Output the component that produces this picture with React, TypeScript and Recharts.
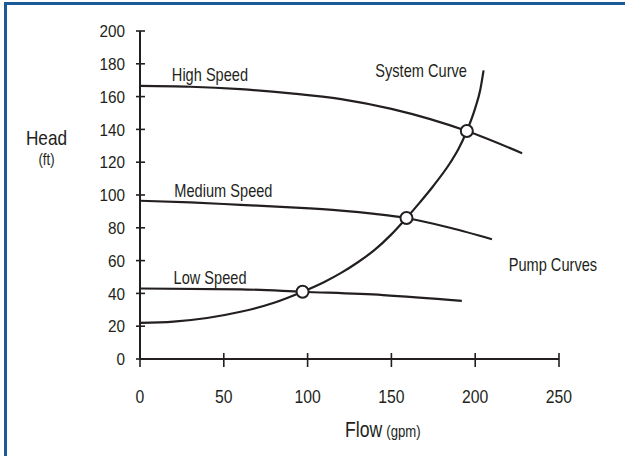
import React from "react"
import {
  ComposedChart,
  Line,
  Scatter,
  XAxis,
  YAxis,
  ReferenceDot,
} from "recharts"

// values (flow in gpm, head in ft)
const flowTicks = [0, 50, 100, 150, 200, 250]
const headTicks = [0, 20, 40, 60, 80, 100, 120, 140, 160, 180, 200]

const highSpeed = [
  { flow: 0, head: 166.5 },
  { flow: 30, head: 166 },
  { flow: 60, head: 164.5 },
  { flow: 90, head: 162 },
  { flow: 120, head: 158.5 },
  { flow: 150, head: 152.5 },
  { flow: 195, head: 139 },
  { flow: 228, head: 125.5 },
]

const mediumSpeed = [
  { flow: 0, head: 96.5 },
  { flow: 30, head: 95.5 },
  { flow: 60, head: 94 },
  { flow: 90, head: 92.5 },
  { flow: 120, head: 90.5 },
  { flow: 140, head: 88.5 },
  { flow: 159, head: 86 },
  { flow: 185, head: 80 },
  { flow: 210, head: 73 },
]

const lowSpeed = [
  { flow: 0, head: 43 },
  { flow: 60, head: 42.5 },
  { flow: 97, head: 41 },
  { flow: 145, head: 39 },
  { flow: 192, head: 35.5 },
]

const systemCurve = [
  { flow: 0, head: 22 },
  { flow: 20, head: 22.8 },
  { flow: 40, head: 25 },
  { flow: 60, head: 28.8 },
  { flow: 80, head: 34.3 },
  { flow: 97, head: 41 },
  { flow: 110, head: 47 },
  { flow: 120, head: 52.5 },
  { flow: 130, head: 59 },
  { flow: 140, head: 66.5 },
  { flow: 150, head: 76 },
  { flow: 159, head: 86 },
  { flow: 167, head: 95.5 },
  { flow: 175, head: 105.5 },
  { flow: 185, head: 119.5 },
  { flow: 190, head: 128 },
  { flow: 195, head: 139 },
  { flow: 200, head: 153 },
  { flow: 203, head: 164 },
  { flow: 205, head: 176 },
]

const operatingPoints = [
  { flow: 97, head: 41 },
  { flow: 159, head: 86 },
  { flow: 195, head: 139 },
]

// curve names, anchored at text start / baseline in data units
const annotations = [
  { text: "High Speed", flow: 19, head: 169.5 },
  { text: "Medium Speed", flow: 20.5, head: 99 },
  { text: "Low Speed", flow: 20, head: 45.7 },
  { text: "System Curve", flow: 140.4, head: 171.8 },
  { text: "Pump Curves", flow: 220, head: 53.5 },
]

const INK = "#231f20"
const FONT = "'Liberation Sans', Arial, sans-serif"

// Arial squeezed horizontally to stand in for a condensed Helvetica
const NarrowText = ({ x, y, size, anchor = "start", squeeze = 0.82, dy, children }: any) => (
  <text
    transform={`translate(${x},${y}) scale(${squeeze},1)`}
    dy={dy}
    textAnchor={anchor}
    fill={INK}
    fontSize={size}
    fontFamily={FONT}
  >
    {children}
  </text>
)

const YTick = (props: any) => {
  const { x, y, payload } = props
  return (
    <g>
      <line x1={x + 11} x2={x + 20} y1={y} y2={y} stroke={INK} strokeWidth={1.6} />
      <NarrowText x={x} y={y} dy="0.36em" anchor="end" size={17} squeeze={0.9}>
        {payload.value}
      </NarrowText>
    </g>
  )
}

const XTick = (props: any) => {
  const { x, y, payload } = props
  return (
    <g>
      <line x1={x} x2={x} y1={y - 6} y2={y + 8} stroke={INK} strokeWidth={1.6} />
      <NarrowText x={x} y={y + 44} anchor="middle" size={17.5} squeeze={0.9}>
        {payload.value}
      </NarrowText>
    </g>
  )
}

const HeadLabel = ({ viewBox }: any) => {
  const cx = viewBox.x - 33.5
  return (
    <g>
      <NarrowText x={cx} y={viewBox.y + 114} anchor="middle" size={21}>
        Head
      </NarrowText>
      <NarrowText x={cx} y={viewBox.y + 134} anchor="middle" size={16}>
        (ft)
      </NarrowText>
    </g>
  )
}

const FlowLabel = ({ viewBox }: any) => (
  <NarrowText x={viewBox.x + 205} y={viewBox.y + 78} size={21.5}>
    <tspan>Flow</tspan>
    <tspan fontSize={16} dx={5}>(gpm)</tspan>
  </NarrowText>
)

const OpenDot = (props: any) => (
  <circle cx={props.cx} cy={props.cy} r={6} fill="#fff" stroke={INK} strokeWidth={2} />
)

export default function App() {
  return (
    <div
      style={{
        position: "absolute",
        left: 0,
        top: 0,
        width: 625,
        height: 456,
        overflow: "hidden",
        background: "#fff",
      }}
    >
      <div
        style={{
          position: "absolute",
          left: 4,
          top: 2,
          width: 621,
          height: 454,
          boxSizing: "border-box",
          borderTop: "3px solid #1b5b97",
          borderLeft: "3px solid #1b5b97",
        }}
      />
      <ComposedChart
        width={625}
        height={456}
        margin={{ top: 31, right: 66, bottom: 0, left: 80 }}
        style={{ position: "absolute", left: 0, top: 0 }}
      >
        <XAxis
          type="number"
          dataKey="flow"
          domain={[0, 250]}
          ticks={flowTicks}
          height={97}
          tickSize={0}
          tickMargin={0}
          tickLine={false}
          axisLine={{ stroke: INK, strokeWidth: 2 }}
          tick={<XTick />}
          label={{ content: <FlowLabel /> }}
        />
        <YAxis
          type="number"
          dataKey="head"
          domain={[0, 200]}
          ticks={headTicks}
          width={60}
          tickSize={0}
          tickMargin={15}
          tickLine={false}
          axisLine={{ stroke: INK, strokeWidth: 2 }}
          tick={<YTick />}
          label={{ content: <HeadLabel /> }}
        />
        <Line data={highSpeed} dataKey="head" type="monotone" stroke={INK} strokeWidth={2.2} dot={false} isAnimationActive={false} />
        <Line data={mediumSpeed} dataKey="head" type="monotone" stroke={INK} strokeWidth={2.2} dot={false} isAnimationActive={false} />
        <Line data={lowSpeed} dataKey="head" type="monotone" stroke={INK} strokeWidth={2.2} dot={false} isAnimationActive={false} />
        <Line data={systemCurve} dataKey="head" type="monotone" stroke={INK} strokeWidth={2.2} dot={false} isAnimationActive={false} />
        <Scatter data={operatingPoints} dataKey="head" shape={<OpenDot />} isAnimationActive={false} />
        {annotations.map((a) => (
          <ReferenceDot
            key={a.text}
            x={a.flow}
            y={a.head}
            r={0}
            ifOverflow="visible"
            shape={(p: any) => (
              <NarrowText x={p.cx} y={p.cy} size={17.8}>
                {a.text}
              </NarrowText>
            )}
          />
        ))}
      </ComposedChart>
    </div>
  )
}
